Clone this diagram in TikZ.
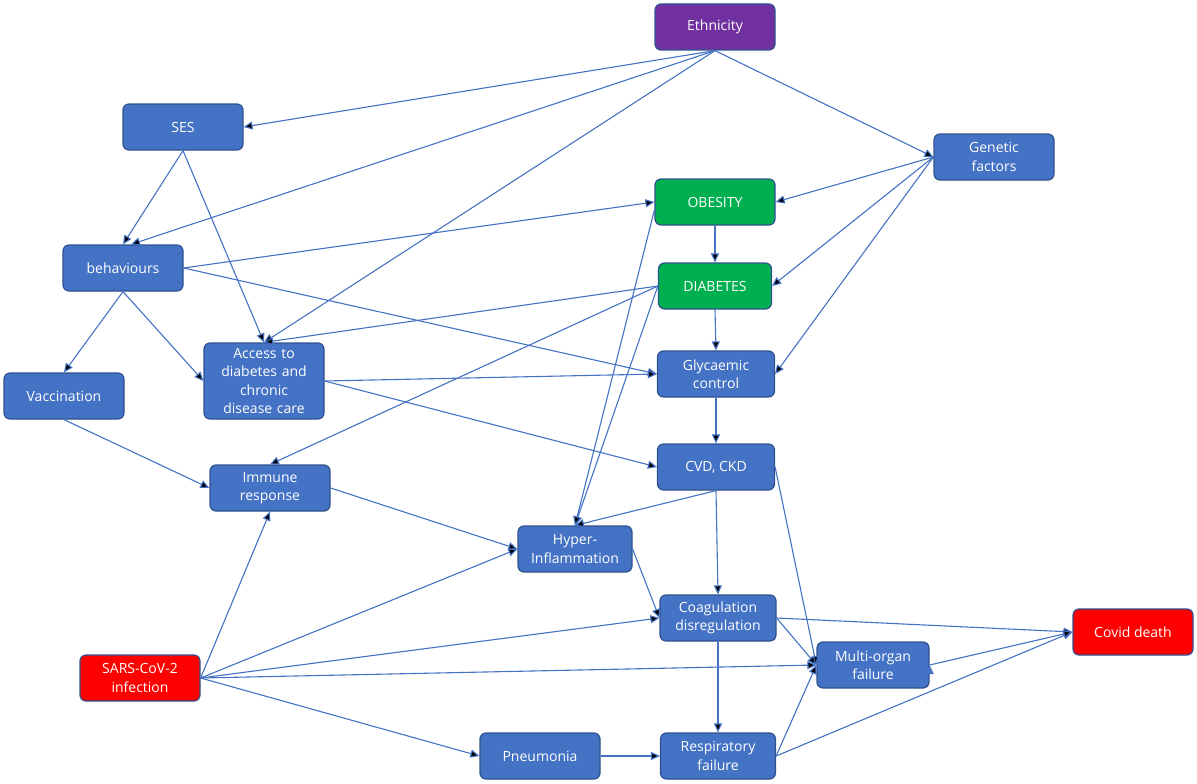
\documentclass[tikz,border=0pt]{standalone}
\usepackage{fontspec}
\setmainfont{Open Sans}
\usetikzlibrary{arrows.meta}
\definecolor{boxblue}{HTML}{4472C4}
\definecolor{boxline}{HTML}{2F528F}
\definecolor{ethpurple}{HTML}{7030A0}
\definecolor{riskgreen}{HTML}{00B050}
\definecolor{outred}{HTML}{FF0000}
\begin{document}
\begin{tikzpicture}[x=1pt,y=-1pt,
  main_node/.style={rectangle,rounded corners=6pt,fill=boxblue,draw=boxline,line width=1.2pt,text=white,
    minimum width=120pt,minimum height=46pt,align=center,inner sep=2pt,font=\fontsize{14}{18.5}\selectfont},
  purple_node/.style={main_node,fill=ethpurple},
  green_node/.style={main_node,fill=riskgreen},
  red_node/.style={main_node,fill=outred},
  link/.style={draw=boxblue,line width=1.1pt,-{Triangle[length=9pt,width=8pt]}}]

  \useasboundingbox (0,0) rectangle (1197,784);

  \node[purple_node] (eth) at (715,27) {Ethnicity};
  \node[main_node] (ses) at (183,127) {SES};
  \node[main_node] (gen) at (994,157) {Genetic\\factors};
  \node[green_node] (obe) at (715,202) {OBESITY};
  \node[main_node] (beh) at (123,268) {behaviours};
  \node[green_node,minimum width=113pt] (dia) at (715,286) {DIABETES};
  \node[main_node,minimum height=76pt,text width=114pt] (acc) at (264,381) {Access to\\diabetes and\\chronic\\disease care};
  \node[main_node] (vac) at (64,396) {Vaccination};
  \node[main_node,minimum width=117pt] (gly) at (716,374) {Glycaemic\\control};
  \node[main_node,minimum width=117pt] (cvd) at (716,467) {CVD, CKD};
  \node[main_node] (imm) at (270,488) {Immune\\response};
  \node[main_node,minimum width=114pt] (hyp) at (575,549) {Hyper-\\Inflammation};
  \node[main_node,minimum width=116pt] (coa) at (718,618) {Coagulation\\disregulation};
  \node[red_node] (cov) at (1133,632) {Covid death};
  \node[red_node] (sar) at (140,678) {SARS-CoV-2\\infection};
  \node[main_node,minimum width=112pt] (mof) at (873,665) {Multi-organ\\failure};
  \node[main_node] (pne) at (540,756) {Pneumonia};
  \node[main_node,minimum width=115pt] (res) at (718,756) {Respiratory\\failure};

  \path[link]
  (eth.south) edge (ses.east)
  (eth.south) edge ([xshift=8pt]beh.north)
  (eth.south) edge (acc.north)
  (eth.south) edge (gen.west)
  (ses.south) edge (beh.north)
  (ses.south) edge (acc.north)
  (beh.east) edge (obe.west)
  (beh.east) edge (gly.west)
  (beh.south) edge (vac.north)
  (beh.south) edge (acc.west)
  (gen.west) edge (obe.east)
  (gen.west) edge (dia.east)
  (gen.west) edge (gly.east)
  (obe.south) edge (dia.north)
  (dia.south) edge (gly.north)
  (gly.south) edge (cvd.north)
  (dia.west) edge (acc.north)
  (dia.west) edge (imm.north)
  (dia.west) edge (hyp.north)
  ([yshift=-8pt]obe.west) edge (hyp.north)
  (acc.east) edge (gly.west)
  (acc.east) edge (cvd.west)
  (vac.south) edge (imm.west)
  (imm.east) edge (hyp.west)
  (cvd.south) edge (hyp.north)
  (cvd.south) edge (coa.north)
  (cvd.east) edge (mof.west)
  (hyp.east) edge (coa.west)
  (sar.east) edge (imm.south)
  (sar.east) edge (hyp.west)
  (sar.east) edge (coa.west)
  (sar.east) edge (mof.west)
  (sar.east) edge (pne.west)
  (pne.east) edge (res.west)
  (coa.south) edge (res.north)
  (coa.east) edge (cov.west)
  (coa.east) edge (mof.west)
  (res.east) edge (mof.west)
  (res.east) edge (cov.west)
  (mof.east) edge (cov.west);
\end{tikzpicture}
\end{document}
